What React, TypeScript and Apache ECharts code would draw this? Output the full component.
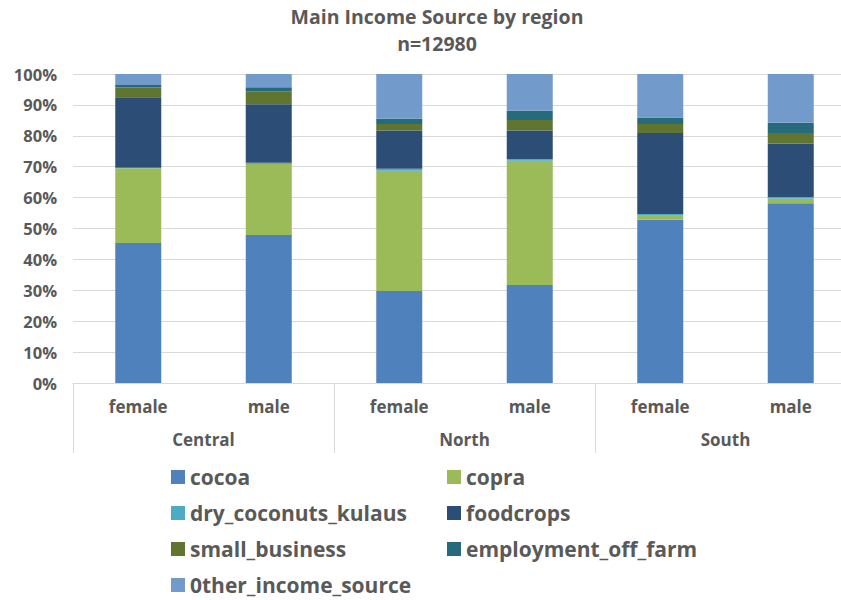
import React, { useEffect, useRef } from "react";
import * as echarts from "echarts";

const genders = ["female", "male", "female", "male", "female", "male"];
const regions = ["Central", "North", "South"];
const seriesNames = [
  "cocoa",
  "copra",
  "dry_coconuts_kulaus",
  "foodcrops",
  "small_business",
  "employment_off_farm",
  "0ther_income_source",
];
const cocoa = [45.3, 47.9, 29.8, 31.7, 52.8, 58.2];
const copra = [24.2, 23.0, 38.9, 40.2, 1.3, 1.4];
const dryCoconuts = [0.2, 0.4, 0.6, 0.6, 0.6, 0.6];
const foodcrops = [22.8, 18.9, 12.4, 9.2, 26.2, 17.3];
const smallBusiness = [3.1, 4.2, 2.1, 3.4, 2.9, 3.4];
const employment = [0.8, 1.3, 1.7, 3.0, 2.1, 3.3];
const otherIncome = [3.6, 4.3, 14.5, 11.9, 14.1, 15.8];
const colors = ["#4F81BD", "#9BBB59", "#4BACC6", "#2C4D75", "#5F7530", "#276A7C", "#729ACA"];

const FONT = "'Open Sans', sans-serif";
const TXT = "#595959";

export default function App() {
  const ref = useRef<HTMLDivElement>(null);
  useEffect(() => {
    if (!ref.current) return;
    const chart = echarts.init(ref.current, null, { renderer: "svg" });
    const values = [cocoa, copra, dryCoconuts, foodcrops, smallBusiness, employment, otherIncome];
    const grid = { left: 73, top: 74, width: 783, height: 309, outerBoundsMode: "none", containLabel: false };
    const legendText = { fontSize: 21, lineHeight: 22, fontWeight: "bold", color: TXT, fontFamily: FONT };
    chart.setOption({
      animation: false,
      textStyle: { fontFamily: FONT },
      graphic: [
        {
          type: "text",
          x: 437,
          y: 3,
          style: {
            text: "Main Income Source by region\nn=12980",
            align: "center",
            fontSize: 19.5,
            lineHeight: 27,
            fontWeight: "bold",
            fill: TXT,
            fontFamily: FONT,
          },
        },
      ],
      grid: [grid, { ...grid }],
      xAxis: [
        {
          type: "category",
          gridIndex: 0,
          data: genders,
          axisLine: { show: true, lineStyle: { color: "#D9D9D9" } },
          axisTick: { show: false },
          axisLabel: { margin: 15, fontSize: 17, fontWeight: "bold", color: TXT, fontFamily: FONT },
        },
        {
          type: "category",
          gridIndex: 1,
          position: "bottom",
          data: regions,
          axisLine: { show: false },
          axisTick: { show: true, length: 70, interval: 0, lineStyle: { color: "#D9D9D9" } },
          axisLabel: { margin: 48, fontSize: 17, fontWeight: "bold", color: TXT, fontFamily: FONT },
        },
      ],
      yAxis: [
        {
          type: "value",
          gridIndex: 0,
          min: 0,
          max: 100,
          interval: 10,
          axisLine: { show: false },
          axisTick: { show: false },
          splitLine: { lineStyle: { color: "#D9D9D9" } },
          axisLabel: {
            formatter: "{value}%",
            margin: 16,
            fontSize: 16.5,
            fontWeight: "bold",
            color: TXT,
            fontFamily: FONT,
          },
        },
        { type: "value", gridIndex: 1, show: false, min: 0, max: 100 },
      ],
      legend: [
        {
          data: [seriesNames[0], seriesNames[2], seriesNames[4], seriesNames[6]],
          orient: "vertical",
          left: 171,
          top: 466,
          height: 140,
          padding: 0,
          itemWidth: 14,
          itemHeight: 14,
          itemGap: 14,
          icon: "rect",
          textStyle: legendText,
        },
        {
          data: [seriesNames[1], seriesNames[3], seriesNames[5]],
          orient: "vertical",
          left: 447,
          top: 466,
          height: 140,
          padding: 0,
          itemWidth: 14,
          itemHeight: 14,
          itemGap: 14,
          icon: "rect",
          textStyle: legendText,
        },
      ],
      series: seriesNames.map((name, i) => ({
        name,
        type: "bar",
        stack: "total",
        xAxisIndex: 0,
        yAxisIndex: 0,
        barWidth: 46,
        itemStyle: { color: colors[i] },
        data: values[i],
      })),
    });
    return () => chart.dispose();
  }, []);
  return <div ref={ref} style={{ position: "absolute", left: 0, top: 0, width: 841, height: 600 }} />;
}
